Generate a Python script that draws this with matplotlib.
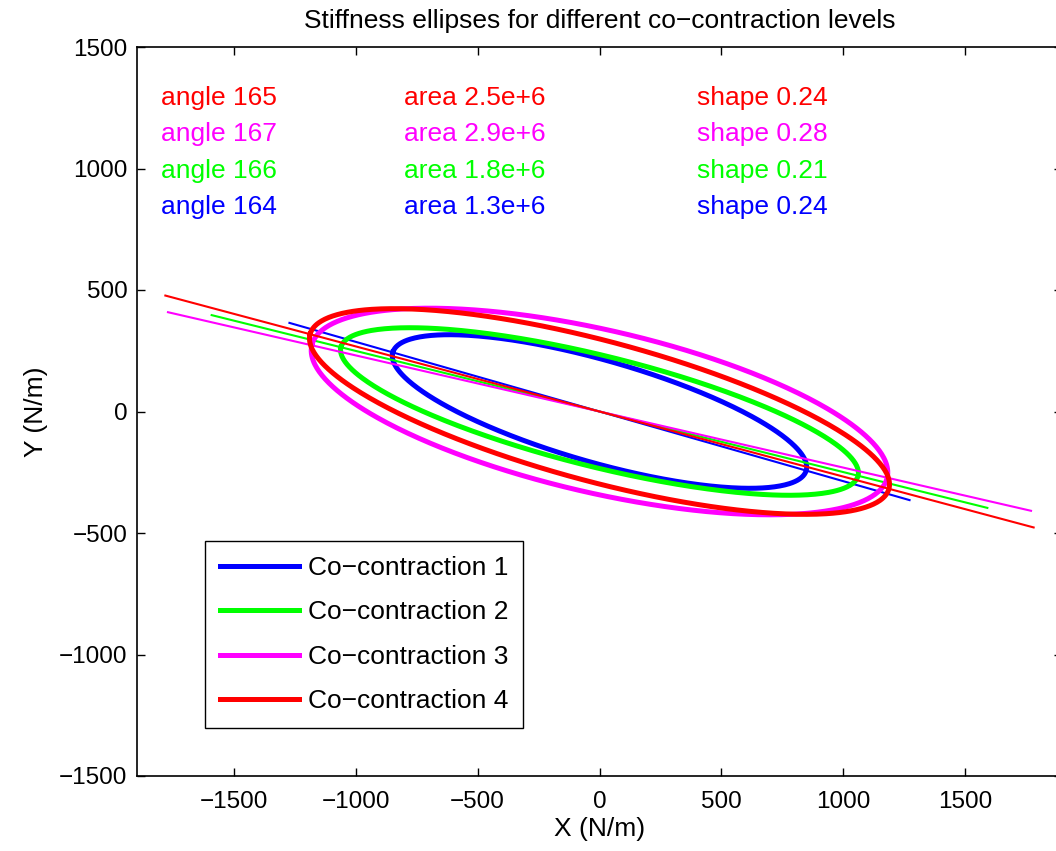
"""Stiffness ellipses for four co-contraction levels, MATLAB-style figure."""

import numpy as np
import matplotlib
matplotlib.use("Agg")
import matplotlib.pyplot as plt

plt.rcParams["font.family"] = ["Liberation Sans", "DejaVu Sans"]

LEVELS = [1, 2, 3, 4]
COLORS = ["#0000ff", "#00ff00", "#ff00ff", "#ff0000"]
ANGLE_DEG = [164, 166, 167, 165]        # orientation of the major axis
SEMI_MAJOR = [882, 1093, 1211, 1229]    # N/m
SEMI_MINOR = [210, 228, 335, 289]       # N/m
AREA_TXT = ["1.3e+6", "1.8e+6", "2.9e+6", "2.5e+6"]
SHAPE_TXT = ["0.24", "0.21", "0.28", "0.24"]

XTICKS = [-1500, -1000, -500, 0, 500, 1000, 1500]
YTICKS = [-1500, -1000, -500, 0, 500, 1000, 1500]


def main():
    fig = plt.figure(figsize=(10.56, 8.51), dpi=100)
    # right edge of the box sits just past the picture, as in the original
    ax = fig.add_axes([137 / 1056, 75 / 851, 925 / 1056, 729 / 851])

    t = np.linspace(0, 2 * np.pi, 500)
    handles = []
    for i, lev in enumerate(LEVELS):
        th = np.deg2rad(ANGLE_DEG[i])
        a, b = SEMI_MAJOR[i], SEMI_MINOR[i]
        u, v = a * np.cos(t), b * np.sin(t)
        x = u * np.cos(th) - v * np.sin(th)
        y = u * np.sin(th) + v * np.cos(th)
        h, = ax.plot(x, y, color=COLORS[i], lw=3.6, label=f"Co\u2212contraction {lev}")
        handles.append(h)
        L = 1.5 * a
        ax.plot([-L * np.cos(th), L * np.cos(th)], [-L * np.sin(th), L * np.sin(th)],
                color=COLORS[i], lw=1.5)

        ty = 840 + 150 * i
        kw = dict(color=COLORS[i], fontsize=19, va="center", ha="left")
        ax.text(-1800, ty, f"angle {ANGLE_DEG[i]}", **kw)
        ax.text(-800, ty, f"area {AREA_TXT[i]}", **kw)
        ax.text(400, ty, f"shape {SHAPE_TXT[i]}", **kw)

    ax.set_xlim(-1897, 1897)
    ax.set_ylim(-1500, 1500)
    ax.set_xticks(XTICKS)
    ax.set_yticks(YTICKS)
    ax.tick_params(direction="in", length=6, width=1, top=True, right=True, labelsize=17.5)
    ax.tick_params(axis="x", pad=11)
    ax.tick_params(axis="y", pad=7)
    for s in ax.spines.values():
        s.set_linewidth(1.2)

    ax.set_xlabel("X (N/m)", fontsize=19, labelpad=3)
    ax.set_ylabel("Y (N/m)", fontsize=19, labelpad=8)
    ax.set_title("Stiffness ellipses for different co\u2212contraction levels",
                 fontsize=19, pad=14)

    leg = ax.legend(handles=handles, loc="lower left",
                    bbox_to_anchor=(205 / 1056, 123 / 851), bbox_transform=fig.transFigure,
                    borderaxespad=0, fontsize=19, handlelength=3.0, handletextpad=0.35,
                    labelspacing=0.78, fancybox=False, framealpha=1, borderpad=0.55)
    leg.get_frame().set_edgecolor("black")
    leg.get_frame().set_linewidth(1.0)

    fig.savefig("out.png", dpi=100)


if __name__ == "__main__":
    main()
